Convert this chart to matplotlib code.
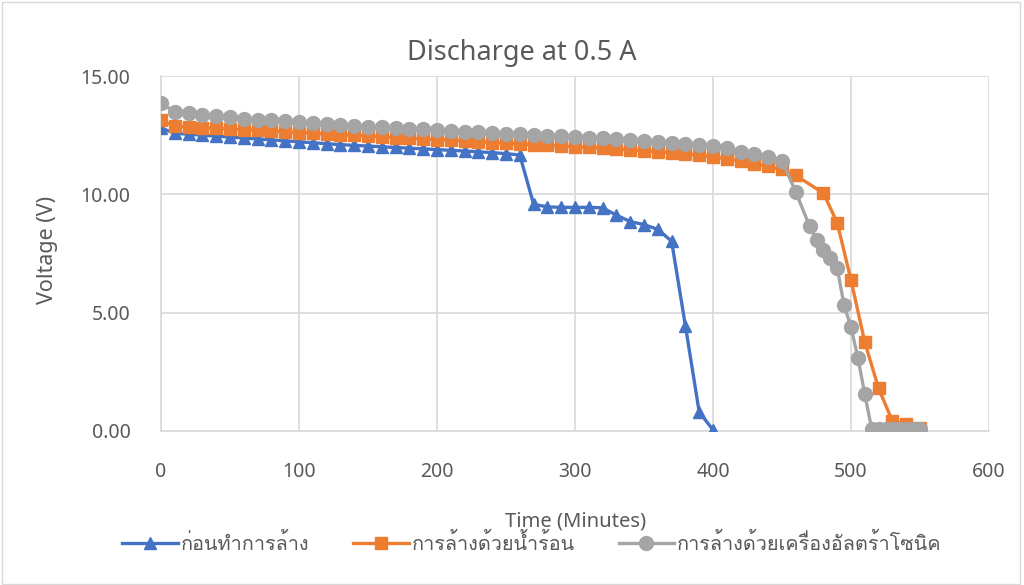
import matplotlib
matplotlib.use("Agg")
import matplotlib.pyplot as plt
import matplotlib.font_manager as fm
from matplotlib.ft2font import FT2Font
from matplotlib.patches import Rectangle

# ---------------- data ----------------
time_before = [0, 10, 20, 30, 40, 50, 60, 70, 80, 90, 100, 110, 120, 130, 140, 150,
               160, 170, 180, 190, 200, 210, 220, 230, 240, 250, 260, 270, 280, 290,
               300, 310, 320, 330, 340, 350, 360, 370, 380, 390, 400]
volt_before = [12.80, 12.58, 12.54, 12.50, 12.46, 12.42, 12.38, 12.34, 12.30, 12.26,
               12.22, 12.18, 12.14, 12.10, 12.07, 12.04, 12.01, 11.98, 11.95, 11.92,
               11.89, 11.86, 11.83, 11.80, 11.76, 11.72, 11.66, 9.58, 9.47, 9.45,
               9.45, 9.45, 9.43, 9.12, 8.85, 8.72, 8.52, 8.02, 4.45, 0.80, 0.05]

time_hot = [0, 10, 20, 30, 40, 50, 60, 70, 80, 90, 100, 110, 120, 130, 140, 150,
            160, 170, 180, 190, 200, 210, 220, 230, 240, 250, 260, 270, 280, 290,
            300, 310, 320, 330, 340, 350, 360, 370, 380, 390, 400, 410, 420, 430,
            440, 450, 460, 480, 490, 500, 510, 520, 530, 540, 550]
volt_hot = [13.12, 12.88, 12.85, 12.82, 12.79, 12.76, 12.73, 12.70, 12.67, 12.64,
            12.61, 12.58, 12.55, 12.52, 12.49, 12.46, 12.43, 12.40, 12.37, 12.34,
            12.31, 12.28, 12.25, 12.22, 12.19, 12.16, 12.13, 12.10, 12.07, 12.04,
            12.01, 11.98, 11.95, 11.92, 11.88, 11.84, 11.80, 11.75, 11.70, 11.65,
            11.58, 11.50, 11.40, 11.30, 11.18, 11.05, 10.80, 10.05, 8.80, 6.38,
            3.75, 1.80, 0.42, 0.30, 0.12]

time_ultra = [0, 10, 20, 30, 40, 50, 60, 70, 80, 90, 100, 110, 120, 130, 140, 150,
              160, 170, 180, 190, 200, 210, 220, 230, 240, 250, 260, 270, 280, 290,
              300, 310, 320, 330, 340, 350, 360, 370, 380, 390, 400, 410, 420, 430,
              440, 450, 460, 470, 475, 480, 485, 490, 495, 500, 505, 510, 515, 520,
              525, 530, 535, 540, 545, 550]
volt_ultra = [13.86, 13.48, 13.42, 13.36, 13.30, 13.25, 13.20, 13.16, 13.12, 13.08,
              13.04, 13.00, 12.96, 12.93, 12.90, 12.86, 12.83, 12.80, 12.77, 12.74,
              12.71, 12.68, 12.65, 12.62, 12.59, 12.56, 12.53, 12.51, 12.48, 12.45,
              12.42, 12.39, 12.36, 12.33, 12.30, 12.26, 12.22, 12.18, 12.13, 12.08,
              12.03, 11.97, 11.80, 11.70, 11.56, 11.41, 10.10, 8.65, 8.07, 7.65,
              7.30, 6.88, 5.32, 4.38, 3.10, 1.55, 0.08, 0.08, 0.08, 0.08,
              0.08, 0.08, 0.08, 0.08]

labels = ["ก่อนทำการล้าง", "การล้างด้วยน้ำร้อน", "การล้างด้วยเครื่องอัลตร้าโซนิค"]
title = "Discharge at 0.5 A"
xlabel = "Time (Minutes)"
ylabel = "Voltage (V)"
xticks = [0, 100, 200, 300, 400, 500, 600]
yticks = [0, 5, 10, 15]

# ---------------- fonts ----------------
def find_thai_font():
    preferred = []
    others = []
    for f in fm.fontManager.ttflist:
        try:
            cm = FT2Font(f.fname).get_charmap()
        except Exception:
            continue
        if 0x0E01 in cm and 0x0E49 in cm:
            if "Sans" in f.name or "Loma" in f.name or "Garuda" in f.name:
                preferred.append(f.name)
            else:
                others.append(f.name)
    allf = preferred + others
    return allf[0] if allf else None

thai = find_thai_font()
base_font = "Noto Sans"
fam = [thai, base_font, "DejaVu Sans"] if thai else [base_font, "DejaVu Sans"]
plt.rcParams['font.family'] = [base_font, "DejaVu Sans"]

grey_txt = "#595959"
c_blue = "#4472C4"
c_orange = "#ED7D31"
c_grey = "#A5A5A5"

fig = plt.figure(figsize=(10.24, 5.85), dpi=100)
ax = fig.add_axes([161/1024, 1 - 431/585, (989-161)/1024, (431-76)/585])

ax.plot(time_before, volt_before, color=c_blue, lw=2.4, marker="^", ms=9,
        label=labels[0], zorder=3)
ax.plot(time_hot, volt_hot, color=c_orange, lw=2.4, marker="s", ms=9,
        label=labels[1], zorder=3)
ax.plot(time_ultra, volt_ultra, color=c_grey, lw=2.4, marker="o", ms=10,
        label=labels[2], zorder=3)

ax.set_xlim(0, 600)
ax.set_ylim(0, 15)
ax.set_xticks(xticks)
ax.set_yticks(yticks)
ax.set_yticklabels([f"{v:.2f}" for v in yticks])
ax.grid(True, color="#d9d9d9", lw=1.2, zorder=0)
ax.set_axisbelow(True)
for s in ["top", "right"]:
    ax.spines[s].set_visible(False)
for s in ["left", "bottom"]:
    ax.spines[s].set_color("#d9d9d9")
    ax.spines[s].set_linewidth(1.2)
ax.tick_params(axis="both", length=0, labelsize=14, labelcolor=grey_txt)
ax.tick_params(axis="x", pad=22)
ax.tick_params(axis="y", pad=22)

fig.text(522/1024, 1 - 53/585, title, ha="center", va="center",
         fontsize=19.5, color=grey_txt)
fig.text(576/1024, 1 - 521/585, xlabel, ha="center", va="center",
         fontsize=14.5, color=grey_txt)
fig.text(48/1024, 1 - 250/585, ylabel, ha="center", va="center",
         rotation=90, fontsize=15.5, color=grey_txt)

leg = fig.legend(loc="center", bbox_to_anchor=(532/1024, 1 - 543/585), ncol=3,
                 frameon=False, prop={"family": fam, "size": 14.3},
                 handlelength=2.8, handletextpad=0.15, columnspacing=2.2,
                 borderaxespad=0)
for t in leg.get_texts():
    t.set_color(grey_txt)

fig.add_artist(Rectangle((0.002, 0.002), 0.994, 0.994, transform=fig.transFigure,
                         fill=False, edgecolor="#d9d9d9", lw=1))

fig.savefig("out.png", dpi=100)
